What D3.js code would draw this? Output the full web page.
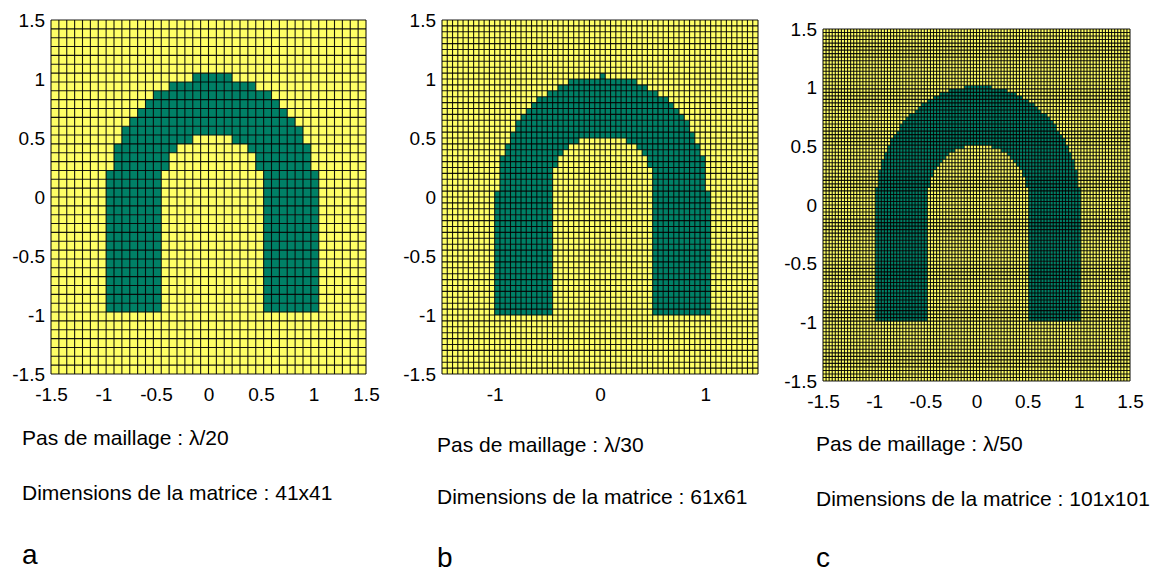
<!DOCTYPE html>
<html>
<head>
<meta charset="utf-8">
<script src="https://cdn.jsdelivr.net/npm/d3@7"></script>
<style>
  html, body { margin: 0; padding: 0; background: #fff; }
  svg { display: block; font-family: "Liberation Sans", Arial, sans-serif; }
  .tick text { fill: #000; }
</style>
</head>
<body>
<svg id="chart" width="1158" height="573"></svg>
<script>
// Mesh definitions: one panel per discretisation step
const panelLetters   = ["a", "b", "c"];
const stepDivisors   = [20, 30, 50];          // mesh step = lambda / divisor
const matrixSizes    = [41, 61, 101];         // points per side of the matrix
const gridExtent     = [-1.5, 1.5];           // domain on both axes
const yTickValues    = [-1.5, -1, -0.5, 0, 0.5, 1, 1.5];
const xTickValuesA   = [-1.5, -1, -0.5, 0, 0.5, 1, 1.5];
const xTickValuesB   = [-1, 0, 1];
const xTickValuesC   = [-1.5, -1, -0.5, 0, 0.5, 1, 1.5];

// Arch-shaped object: half annulus on top, two straight legs below
const outerRadius = 1;
const innerRadius = 0.5;
const legBottom   = -1;

const xTickSets = [xTickValuesA, xTickValuesB, xTickValuesC];

// Layout of the three panels (pixel frames) and their captions
const frames = [
  { left: 51,  top: 20, right: 366,  bottom: 374, textX: 22,  base: [444.5, 499.5, 564] },
  { left: 442, top: 20, right: 758,  bottom: 374, textX: 437, base: [451.5, 504,   567] },
  { left: 823, top: 29, right: 1130, bottom: 381, textX: 816, base: [450.7, 505.7, 567] }
];

const YELLOW = "rgb(255,255,102)";
const GREEN  = "rgb(0,128,102)";

// linspace as used to build the mesh vertices
function linspace(a, b, n) {
  const n1 = n - 1, out = [];
  for (let k = 0; k <= n1; k++) out.push(a + (k * (b - a)) / n1);
  out[n1] = b;
  return out;
}

// membership of a mesh vertex in the arch
function inside(x, y) {
  if (y >= 0) {
    const r = Math.sqrt(x * x + y * y);
    return r >= innerRadius && r <= outerRadius;
  }
  if (y >= legBottom) {
    const ax = Math.abs(x);
    return ax >= innerRadius && ax <= outerRadius;
  }
  return false;
}

const svg = d3.select("#chart");

frames.forEach((f, i) => {
  const n = matrixSizes[i];
  const xs = linspace(gridExtent[0], gridExtent[1], n);
  const ys = linspace(gridExtent[0], gridExtent[1], n);

  const x = d3.scaleLinear().domain(gridExtent).range([f.left, f.right]);
  const y = d3.scaleLinear().domain(gridExtent).range([f.bottom, f.top]);

  // faceted cells: each cell takes the value of its lower-left vertex
  const cells = [];
  for (let j = 0; j < n - 1; j++) {
    for (let k = 0; k < n - 1; k++) {
      cells.push({ x0: xs[k], x1: xs[k + 1], y0: ys[j], y1: ys[j + 1], on: inside(xs[k], ys[j]) });
    }
  }

  const g = svg.append("g");

  g.append("g").selectAll("rect").data(cells).join("rect")
    .attr("x", d => x(d.x0))
    .attr("y", d => y(d.y1))
    .attr("width", d => x(d.x1) - x(d.x0) + 0.05)
    .attr("height", d => y(d.y0) - y(d.y1) + 0.05)
    .attr("fill", d => d.on ? GREEN : YELLOW);

  // mesh edges
  const edges = g.append("g")
    .attr("stroke", "#000")
    .attr("stroke-width", 1.1)
    .attr("stroke-opacity", 0.9);
  edges.selectAll("line.v").data(xs).join("line")
    .attr("class", "v")
    .attr("x1", d => x(d)).attr("x2", d => x(d))
    .attr("y1", y(gridExtent[0])).attr("y2", y(gridExtent[1]));
  edges.selectAll("line.h").data(ys).join("line")
    .attr("class", "h")
    .attr("y1", d => y(d)).attr("y2", d => y(d))
    .attr("x1", x(gridExtent[0])).attr("x2", x(gridExtent[1]));

  // axes
  const fmt = d => String(d);
  g.append("g")
    .attr("transform", `translate(0,${f.bottom})`)
    .call(d3.axisBottom(x).tickValues(xTickSets[i]).tickFormat(fmt).tickSize(0).tickPadding(14))
    .call(a => a.select(".domain").remove())
    .selectAll("text").attr("font-size", 19).attr("font-family", "Liberation Sans, Arial, sans-serif");
  g.append("g")
    .attr("transform", `translate(${f.left},0)`)
    .call(d3.axisLeft(y).tickValues(yTickValues).tickFormat(fmt).tickSize(0).tickPadding(6))
    .call(a => a.select(".domain").remove())
    .selectAll("text").attr("font-size", 19).attr("font-family", "Liberation Sans, Arial, sans-serif");

  // captions
  const captions = [
    "Pas de maillage : \u03bb/" + stepDivisors[i],
    "Dimensions de la matrice : " + n + "x" + n
  ];
  captions.forEach((t, c) => {
    g.append("text")
      .attr("x", f.textX).attr("y", f.base[c])
      .attr("font-size", 21)
      .attr("fill", "#000")
      .text(t);
  });
  g.append("text")
    .attr("x", f.textX).attr("y", f.base[2])
    .attr("font-size", 28)
    .attr("fill", "#000")
    .text(panelLetters[i]);
});
</script>
</body>
</html>
